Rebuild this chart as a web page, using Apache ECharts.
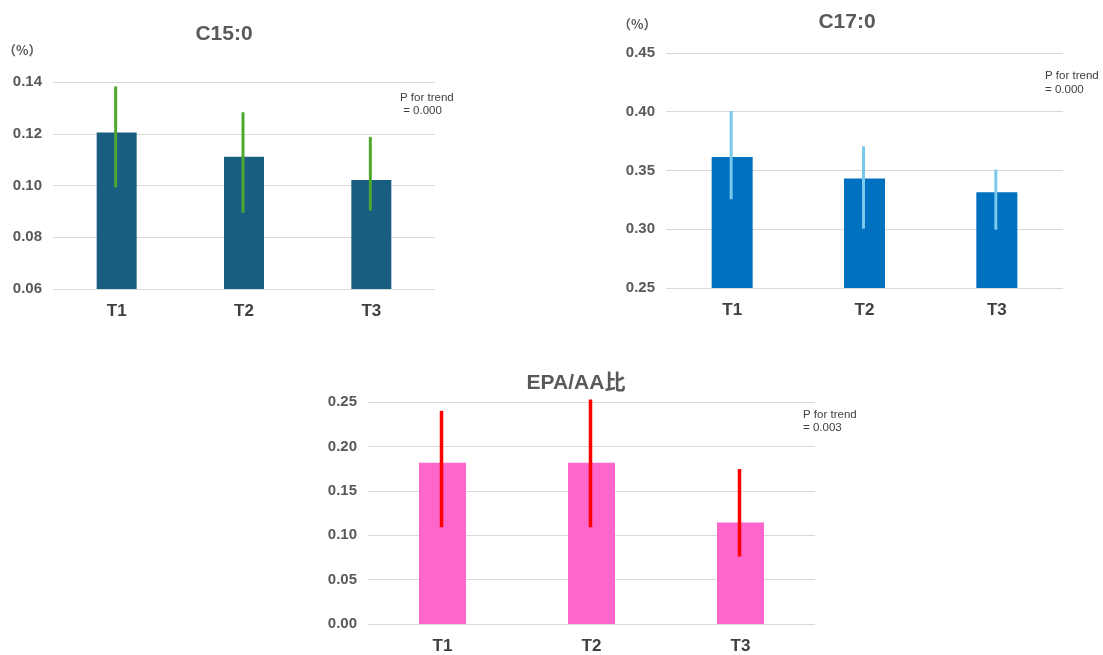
<!DOCTYPE html>
<html>
<head>
<meta charset="utf-8">
<script src="https://cdn.jsdelivr.net/npm/echarts@6/dist/echarts.min.js"></script>
<style>
html,body{margin:0;padding:0;background:#fff;}
#main{width:1103px;height:655px;}
</style>
</head>
<body>
<div id="main"></div>
<script>
// ---- data ----
const categories = ['T1', 'T2', 'T3'];

const c15Mean = [0.1205, 0.1111, 0.1021];
const c15Low  = [0.0993, 0.0895, 0.0903];
const c15High = [0.1383, 0.1283, 0.1188];

const c17Mean = [0.3615, 0.3431, 0.3314];
const c17Low  = [0.3255, 0.3005, 0.2997];
const c17High = [0.4006, 0.3706, 0.3508];

const epaMean = [0.1816, 0.1816, 0.1144];
const epaLow  = [0.109, 0.109, 0.076];
const epaHigh = [0.240, 0.2528, 0.1745];

const titles = ['C15:0', 'C17:0', 'EPA/AA比'];
const pTrend = ['P for trend\n = 0.000', 'P for trend\n= 0.000', 'P for trend\n= 0.003'];
const unitLabel = '（%）';

// ---- chart ----
const FONT = '"Liberation Sans", Arial, "Noto Sans CJK JP", sans-serif';
const CJK = '"Noto Sans CJK JP", sans-serif';
const chart = echarts.init(document.getElementById('main'), null, {renderer: 'canvas'});

const grids = [
  {left: 53, right: 668, top: 82, bottom: 366},
  {left: 666, right: 40, top: 53, bottom: 367},
  {left: 368, right: 288, top: 402, bottom: 31}
];
const yRanges = [
  {min: 0.06, max: 0.14, interval: 0.02},
  {min: 0.25, max: 0.45, interval: 0.05},
  {min: 0, max: 0.25, interval: 0.05}
];
const barColors = ['#185E80', '#0070C0', '#FF66CC'];
const errColors = ['#4EA72E', '#7AC8EC', '#FF0000'];
const barWidths = [40, 41, 47];
const errWidths = [3, 3, 3.5];
const means = [c15Mean, c17Mean, epaMean];
const lows = [c15Low, c17Low, epaLow];
const highs = [c15High, c17High, epaHigh];

const xAxes = [], yAxes = [], series = [];
for (let i = 0; i < 3; i++) {
  xAxes.push({
    type: 'category', gridIndex: i, data: categories,
    axisLine: {show: false}, axisTick: {show: false},
    axisLabel: {color: '#404040', fontFamily: FONT, fontWeight: 'bold', fontSize: 17, margin: 14}
  });
  yAxes.push({
    type: 'value', gridIndex: i,
    min: yRanges[i].min, max: yRanges[i].max, interval: yRanges[i].interval,
    axisLine: {show: false}, axisTick: {show: false},
    splitLine: {lineStyle: {color: '#D9D9D9', width: 1}},
    axisLabel: {color: '#595959', fontFamily: FONT, fontWeight: 'bold', fontSize: 15, margin: 11,
      formatter: v => v.toFixed(2)}
  });
  series.push({
    type: 'bar', xAxisIndex: i, yAxisIndex: i,
    data: means[i], barWidth: barWidths[i],
    itemStyle: {color: barColors[i]}, z: 2
  });
  const ec = errColors[i], ew = errWidths[i];
  series.push({
    type: 'custom', xAxisIndex: i, yAxisIndex: i, z: 5, clip: false,
    data: categories.map((c, k) => [k, lows[i][k], highs[i][k]]),
    encode: {x: 0, y: [1, 2]},
    renderItem: function (params, api) {
      const p1 = api.coord([api.value(0), api.value(1)]);
      const p2 = api.coord([api.value(0), api.value(2)]);
      return {
        type: 'line',
        shape: {x1: p1[0] - 1, y1: p1[1], x2: p2[0] - 1, y2: p2[1]},
        style: {stroke: ec, lineWidth: ew}
      };
    }
  });
}

function txt(x, y, text, size, weight, color, align, family) {
  return {
    type: 'text', x: x, y: y, silent: true,
    style: {text: text, fontFamily: family || FONT, fontSize: size, fontWeight: weight,
      fill: color, align: align || 'left', verticalAlign: 'middle', lineHeight: Math.round(size * 1.3)}
  };
}

const graphics = [
  txt(224, 34, titles[0], 21, 'bold', '#595959', 'center'),
  txt(847, 22, titles[1], 21, 'bold', '#595959', 'center'),
  txt(576, 383, titles[2], 21, 'bold', '#595959', 'center'),
  txt(3, 50, unitLabel, 13, 'bold', '#595959', 'left', CJK),
  txt(618, 24, unitLabel, 13, 'bold', '#595959', 'left', CJK),
  {type: 'text', x: 400, y: 91, silent: true,
   style: {text: pTrend[0], fontFamily: FONT, fontSize: 11.5, fill: '#404040', lineHeight: 13.5, verticalAlign: 'top'}},
  {type: 'text', x: 1045, y: 69, silent: true,
   style: {text: pTrend[1], fontFamily: FONT, fontSize: 11.5, fill: '#404040', lineHeight: 14, verticalAlign: 'top'}},
  {type: 'text', x: 803, y: 408, silent: true,
   style: {text: pTrend[2], fontFamily: FONT, fontSize: 11.5, fill: '#404040', lineHeight: 13.5, verticalAlign: 'top'}}
];

chart.setOption({
  animation: false,
  backgroundColor: '#ffffff',
  grid: grids,
  xAxis: xAxes,
  yAxis: yAxes,
  series: series,
  graphic: graphics
});
</script>
</body>
</html>
